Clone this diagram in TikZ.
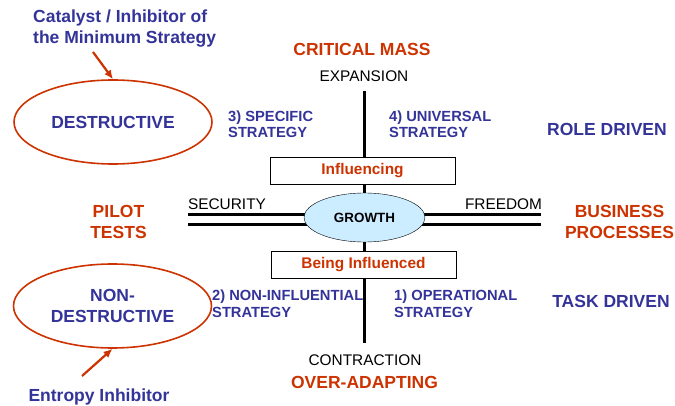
\documentclass[tikz,border=0pt]{standalone}
\usepackage{fontspec}
\setmainfont{Liberation Sans}
\usetikzlibrary{shapes.geometric,arrows.meta}
\definecolor{dblue}{RGB}{51,51,153}
\definecolor{dred}{RGB}{204,51,0}
\definecolor{lblue}{RGB}{204,236,255}

\begin{document}
\begin{tikzpicture}[x=1pt,y=-1pt,inner sep=0pt,
  big/.style={font=\bfseries\fontsize{17.5}{21}\selectfont,align=center},
  small/.style={font=\bfseries\fontsize{14.7}{16.5}\selectfont,text=dblue,align=left,anchor=west},
  plain/.style={font=\fontsize{15.4}{18}\selectfont},
  oval/.style={ellipse,draw=dred,line width=1.6pt,minimum width=198pt,minimum height=84pt},
  panel/.style={draw,fill=white,minimum width=185pt,minimum height=27pt,
    font=\bfseries\fontsize{15.4}{18}\selectfont,text=dred},
  pointer/.style={dred,line width=2.2pt,-{Latex[length=9pt,width=8pt]}}]
  \useasboundingbox (0,0) rectangle (675,406);
  % axes
  \coordinate (top) at (364.5,91);
  \coordinate (bot) at (364.5,343);
  \coordinate (lft) at (188,220);
  \coordinate (rgt) at (541,220);
  \draw[line width=2.5pt] (top) -- (bot);
  \draw[line width=3pt,double distance=7pt] (lft) -- (rgt);
  \node[ellipse,draw,fill=lblue,minimum width=121pt,minimum height=49pt,
    font=\bfseries\fontsize{13.4}{16}\selectfont] (growth) at (364.5,217.5) {GROWTH};
  \node[panel] (infl) at (362.5,170.5) {Influencing};
  \node[panel] (beinfl) at (363.5,265) {Being Influenced};
  \node[plain] (expansion) at (364,76.5) {EXPANSION};
  \node[plain] (contraction) at (365,360) {CONTRACTION};
  \node[plain] (security) at (227,204) {SECURITY};
  \node[plain] (freedom) at (503.5,204) {FREEDOM};
  \node[big,text=dred] (critmass) at (362,49.5) {CRITICAL MASS};
  \node[big,text=dred] (overadapt) at (364.5,382) {OVER-ADAPTING};
  \node[big,text=dred] (pilot) at (118.5,222) {PILOT\\TESTS};
  \node[big,text=dred] (business) at (619.5,222) {BUSINESS\\PROCESSES};
  \node[big,text=dblue] (role) at (607,129) {ROLE DRIVEN};
  \node[big,text=dblue] (task) at (611,301) {TASK DRIVEN};
  % strategies
  \node[small] (specific) at (228,124) {3) SPECIFIC\\STRATEGY};
  \node[small] (universal) at (389,124) {4) UNIVERSAL\\STRATEGY};
  \node[small] (noninfl) at (212,303.5) {2) NON-INFLUENTIAL\\STRATEGY};
  \node[small] (operational) at (394,303.5) {1) OPERATIONAL\\STRATEGY};
  % left ovals
  \node[oval,big,text=dblue] (destr) at (113,122) {DESTRUCTIVE};
  \node[oval,big,text=dblue] (nondestr) at (112.5,306) {NON-\\DESTRUCTIVE};
  \node[big,text=dblue,align=left,anchor=west] (catalyst) at (33,28.5)
    {Catalyst / Inhibitor of\\the Minimum Strategy};
  \node[big,text=dblue] (entropy) at (99,397) {Entropy Inhibitor};
  \coordinate (catalyst-tail) at (93,52);
  \coordinate (entropy-tail) at (82,376);
  \draw[pointer] (catalyst-tail) -- (destr.north);
  \draw[pointer] (entropy-tail) -- (nondestr.south);
\end{tikzpicture}
\end{document}
